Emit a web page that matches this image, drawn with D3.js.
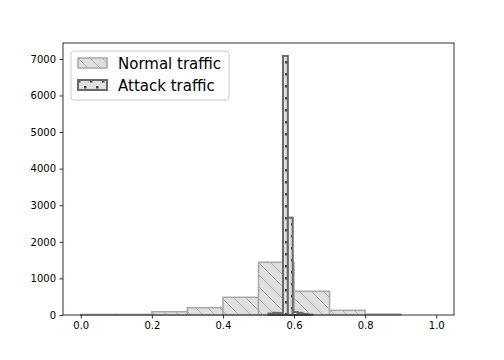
<!DOCTYPE html>
<html>
<head>
<meta charset="utf-8">
<script src="https://cdn.jsdelivr.net/npm/d3@7"></script>
<style>
  body { margin: 0; background: #fff; }
  text { font-family: "DejaVu Sans", sans-serif; }
</style>
</head>
<body>
<div id="chart"></div>
<script>
// histogram bins (edges) and counts
const normalEdges = [0.0, 0.1, 0.2, 0.3, 0.4, 0.5, 0.6, 0.7, 0.8, 0.9];
const normalCounts = [15, 15, 90, 200, 484, 1441, 648, 128, 25];

const attackEdges = [0.528, 0.5416, 0.5553, 0.5689, 0.5826, 0.5963, 0.61, 0.6237, 0.6374, 0.651];
const attackCounts = [40, 60, 50, 7080, 2660, 80, 60, 30, 10];

const xTicks = [0.0, 0.2, 0.4, 0.6, 0.8, 1.0];
const yTicks = [0, 1000, 2000, 3000, 4000, 5000, 6000, 7000];
const legendLabels = ["Normal traffic", "Attack traffic"];

const width = 504, height = 360;
const margins = { top: 43, right: 50, bottom: 45, left: 63 };
const innerWidth = width - margins.left - margins.right;
const innerHeight = height - margins.top - margins.bottom;

const xScale = d3.scaleLinear().domain([-0.05, 1.05]).range([0, innerWidth]);
const yScale = d3.scaleLinear().domain([0, 7434]).range([innerHeight, 0]);

const svg = d3.select('#chart').append('svg')
  .attr('width', width)
  .attr('height', height);

// hatch patterns, like matplotlib's '\\' and '.'
const defs = svg.append('defs');
const diag = defs.append('pattern')
  .attr('id', 'hatchDiag')
  .attr('patternUnits', 'userSpaceOnUse')
  .attr('width', 12).attr('height', 12);
diag.append('rect').attr('width', 12).attr('height', 12).attr('fill', '#e0e0e0');
diag.append('path')
  .attr('d', 'M-3,-3L15,15M-3,9L3,15M9,-3L15,3')
  .attr('stroke', '#aaa').attr('stroke-width', 1);

const dots = defs.append('pattern')
  .attr('id', 'hatchDots')
  .attr('patternUnits', 'userSpaceOnUse')
  .attr('width', 12).attr('height', 12);
dots.append('rect').attr('width', 12).attr('height', 12).attr('fill', '#e0e0e0');
dots.append('rect').attr('x', 0).attr('y', 0).attr('width', 2.5).attr('height', 2.5).attr('fill', '#444');
dots.append('rect').attr('x', 6).attr('y', 6).attr('width', 2.5).attr('height', 2.5).attr('fill', '#444');

const g = svg.append('g')
  .attr('transform', `translate(${margins.left},${margins.top})`);

const normalData = normalCounts.map((c, i) => ({ x0: normalEdges[i], x1: normalEdges[i + 1], y: c }));
const attackData = attackCounts.map((c, i) => ({ x0: attackEdges[i], x1: attackEdges[i + 1], y: c }));

g.selectAll('rect.normal')
  .data(normalData)
  .enter().append('rect')
  .attr('class', 'normal')
  .attr('x', d => xScale(d.x0))
  .attr('y', d => yScale(d.y))
  .attr('width', d => xScale(d.x1) - xScale(d.x0))
  .attr('height', d => yScale(0) - yScale(d.y))
  .attr('fill', 'url(#hatchDiag)')
  .attr('stroke', '#a8a8a8')
  .attr('stroke-width', 1.5);

g.selectAll('rect.attack')
  .data(attackData)
  .enter().append('rect')
  .attr('class', 'attack')
  .attr('x', d => xScale(d.x0))
  .attr('y', d => yScale(d.y))
  .attr('width', d => xScale(d.x1) - xScale(d.x0))
  .attr('height', d => yScale(0) - yScale(d.y))
  .attr('fill', 'url(#hatchDots)')
  .attr('stroke', '#6a6a6a')
  .attr('stroke-width', 2);

// axes
const xAxis = d3.axisBottom(xScale)
  .tickValues(xTicks)
  .tickFormat(d3.format('.1f'))
  .tickSizeInner(3.5).tickSizeOuter(0)
  .tickPadding(3.5);
const yAxis = d3.axisLeft(yScale)
  .tickValues(yTicks)
  .tickFormat(d3.format('d'))
  .tickSizeInner(3.5).tickSizeOuter(0)
  .tickPadding(3.5);

const gx = g.append('g')
  .attr('transform', `translate(0,${innerHeight})`)
  .call(xAxis);
const gy = g.append('g').call(yAxis);
[gx, gy].forEach(a => {
  a.attr('font-family', '"DejaVu Sans", sans-serif').attr('font-size', 10);
  a.select('.domain').remove();
  a.selectAll('text').attr('fill', '#000');
  a.selectAll('line').attr('stroke', '#000').attr('stroke-width', 0.8);
});

// frame
g.append('rect')
  .attr('width', innerWidth).attr('height', innerHeight)
  .attr('fill', 'none').attr('stroke', '#000').attr('stroke-width', 0.8);

// legend
const leg = g.append('g').attr('transform', 'translate(8,8)');
leg.append('rect')
  .attr('width', 158).attr('height', 49)
  .attr('rx', 3)
  .attr('fill', '#fff').attr('fill-opacity', 0.8)
  .attr('stroke', '#ccc').attr('stroke-width', 1);
const legItems = [
  { fill: 'url(#hatchDiag)', stroke: '#a8a8a8', sw: 1.5 },
  { fill: 'url(#hatchDots)', stroke: '#6a6a6a', sw: 2 }
];
legendLabels.forEach((label, i) => {
  const row = leg.append('g').attr('transform', `translate(7,${7 + i * 22})`);
  row.append('rect')
    .attr('width', 29).attr('height', 10)
    .attr('fill', legItems[i].fill)
    .attr('stroke', legItems[i].stroke)
    .attr('stroke-width', legItems[i].sw);
  row.append('text')
    .attr('x', 40).attr('y', 11)
    .attr('font-size', 15)
    .attr('fill', '#000')
    .text(label);
});
</script>
</body>
</html>
